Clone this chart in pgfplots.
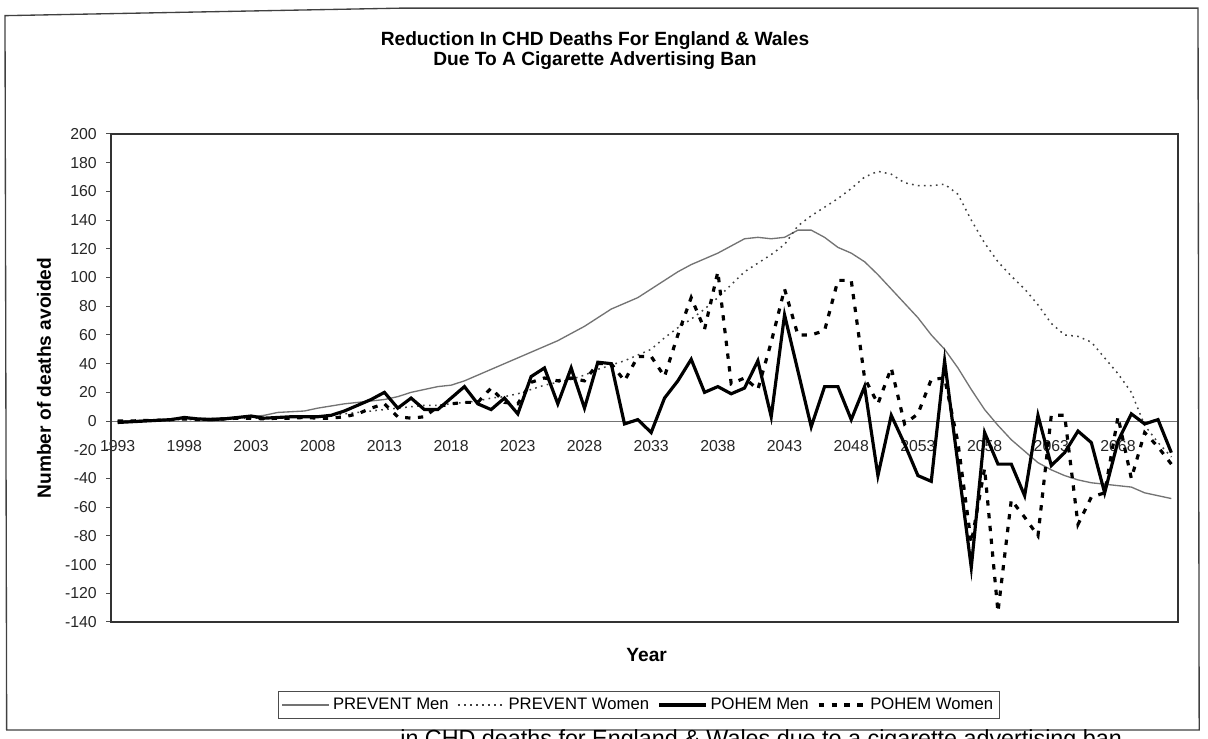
\documentclass[border=0pt]{standalone}
\usepackage{fontspec}
\setmainfont{Liberation Sans}
\usepackage{pgfplots}
\usepackage{pgfplotstable}
\pgfplotsset{compat=1.18}

\pgfplotstableread{
year pm pw hm hw
1993 0 0 -1 0
1994 0.3 0 -0.5 0
1995 0.6 0.3 0 0.5
1996 1 0.5 0.5 0.5
1997 1.2 0.8 1 1
1998 1.5 1 2.5 1.5
1999 1.8 1 1.5 1
2000 2 1.2 1 1
2001 2.3 1.5 1.5 1.5
2002 2.6 1.8 2.5 2
2003 3 2 3.5 2
2004 4 2 2 1.5
2005 6 2.5 2.5 2
2006 6.5 3 3 2
2007 7 3 3 2.5
2008 9 3.5 3 2
2009 10.5 4 4 2
2010 12 5 7 3
2011 13 6 11 5
2012 14 7 15 9
2013 15 8 20 12
2014 17 9 9 3
2015 20 10 16 2
2016 22 11 8 3
2017 24 11 8 10
2018 25 12 16 12
2019 28 13 24 13
2020 32 14 12 13
2021 36 16 8 23
2022 40 17 16 13
2023 44 19 5 12
2024 48 22 31 27
2025 52 25 37 30
2026 56 27 12 28
2027 61 29 37 30
2028 66 32 9 28
2029 72 36 41 40
2030 78 39 40 40
2031 82 42 -2 28
2032 86 46 1 45
2033 92 50 -8 45
2034 98 58 16 31
2035 104 65 28 60
2036 109 71 43 86
2037 113 78 20 64
2038 117 86 24 104
2039 122 95 19 26
2040 127 104 23 30
2041 128 110 42 22
2042 127 116 3 55
2043 128 123 74 92
2044 133 136 35 60
2045 133 143 -4 60
2046 128 149 24 63
2047 121 155 24 98
2048 117 162 1 98
2049 111 170 24 30
2050 102 174 -38 12
2051 92 172 4 37
2052 82 166 -16 -2
2053 72 164 -38 5
2054 60 164 -42 29
2055 50 165 42 30
2056 37 158 -30 -15
2057 22 140 -102 -85
2058 8 124 -8 -33
2059 -3 111 -30 -133
2060 -13 101 -30 -55
2061 -21 92 -52 -67
2062 -29 81 4 -80
2063 -34 68 -31 4
2064 -38 60 -22 4
2065 -41 59 -7 -72
2066 -43 55 -15 -53
2067 -44 44 -50 -50
2068 -45 33 -14 3
2069 -46 20 5 -40
2070 -50 -3 -2 -8
2071 -52 -15 1 -18
2072 -54 -25 -22 -30
}\chd

\begin{document}
\begin{tikzpicture}[x=1pt,y=1pt]
\useasboundingbox (0,0) rectangle (724.8,443.4);
% outer frame
\draw[black!75, line width=0.8pt] (3,434) -- (240,438.5) -- (718.8,438.5) -- (719.5,5.4) -- (4,5.4) -- cycle;
% title
\node[font=\bfseries\fontsize{11.5}{12.5}\selectfont, align=center] at (357,413)
  {Reduction In CHD Deaths For England \& Wales\\Due To A Cigarette Advertising Ban};
% caption fragment at the cut-off bottom edge of the scan
\node[font=\fontsize{14}{16}\selectfont, anchor=base west, inner sep=0pt] at (240,-4.5)
  {in CHD deaths for England \& Wales due to a cigarette advertising ban};

% zero line with category ticks and year labels
\begin{axis}[
  at={(66.6pt,70.2pt)}, anchor=south west, scale only axis,
  width=640.2pt, height=292.8pt,
  xmin=1992.5, xmax=2072.5, ymin=-140, ymax=200,
  axis x line=middle, axis y line=none,
  x axis line style={-, draw=black!55, line width=0.6pt},
  xtick={1993,1998,2003,2008,2013,2018,2023,2028,2033,2038,2043,2048,2053,2058,2063,2068},
  xticklabels={1993,1998,2003,2008,2013,2018,2023,2028,2033,2038,2043,2048,2053,2058,2063,2068},
  xtick style={draw=none},
  extra x ticks={1997.5,2002.5,2007.5,2012.5,2017.5,2022.5,2027.5,2032.5,2037.5,2042.5,2047.5,2052.5,2057.5,2062.5,2067.5},
  extra x tick labels={},
  extra x tick style={tick align=outside, major tick length=4pt, draw=black!60, line width=0.6pt},
  xticklabel style={font=\fontsize{9.5}{11}\selectfont, yshift=-6pt, text=black!85},
]
\end{axis}

% data axis
\begin{axis}[
  at={(66.6pt,70.2pt)}, anchor=south west, scale only axis,
  width=640.2pt, height=292.8pt,
  xmin=1992.5, xmax=2072.5, ymin=-140, ymax=200,
  axis line style={draw=black!80, line width=0.8pt},
  xtick=\empty,
  ytick={-140,-120,...,200}, ytick pos=left,
  tick align=outside, major tick length=3pt,
  ytick style={draw=black!70, line width=0.6pt},
  /pgf/number format/assume math mode=true,
  yticklabel style={font=\fontsize{9.5}{11}\selectfont, xshift=-2pt, text=black!85},
  ylabel={Number of deaths avoided},
  ylabel style={at={(axis description cs:-0.0628,0.5)}, anchor=center, font=\bfseries\fontsize{11.5}{13}\selectfont},
  xlabel={Year},
  xlabel style={at={(axis description cs:0.502,-0.0676)}, anchor=center, font=\bfseries\fontsize{11.5}{13}\selectfont},
  legend columns=4,
  legend image code/.code={\draw[#1] (0pt,0pt) -- (28pt,0pt);},
  legend style={at={(axis description cs:0.4949,-0.1701)}, anchor=center,
    draw=black!70, line width=0.6pt, font=\fontsize{10}{12}\selectfont,
    inner xsep=2pt, inner ysep=2pt,
    /tikz/every even column/.append style={column sep=3pt}},
]
\addplot[black!55, line width=0.8pt] table[x=year, y=pm] {\chd};
\addlegendentry{PREVENT Men}
\addplot[black!75, line width=0.9pt, dash pattern=on 1pt off 2.6pt] table[x=year, y=pw] {\chd};
\addlegendentry{PREVENT Women}
\addplot[black, line width=1.9pt] table[x=year, y=hm] {\chd};
\addlegendentry{POHEM Men}
\addplot[black, line width=1.9pt, dash pattern=on 3.2pt off 4.5pt] table[x=year, y=hw] {\chd};
\addlegendentry{POHEM Women}
\end{axis}
\end{tikzpicture}
\end{document}
